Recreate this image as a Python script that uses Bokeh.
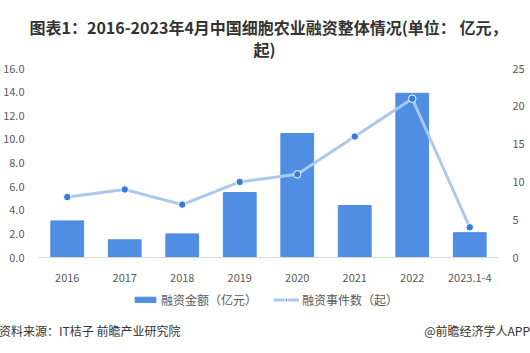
from bokeh.plotting import figure
from bokeh.layouts import column
from bokeh.models import (Range1d, LinearAxis, FixedTicker, NumeralTickFormatter,
                          Title, Legend, LegendItem, Div)
from bokeh.embed import file_html
from bokeh.resources import INLINE

categories = ["2016", "2017", "2018", "2019", "2020", "2021", "2022", "2023.1-4"]
amount = [3.1, 1.5, 2.0, 5.5, 10.5, 4.4, 13.9, 2.1]
events = [8, 9, 7, 10, 11, 16, 21, 4]
left_ticks = [0, 2, 4, 6, 8, 10, 12, 14, 16]
right_ticks = [0, 5, 10, 15, 20, 25]
title_lines = ["图表1：2016-2023年4月中国细胞农业融资整体情况(单位： 亿元，", "起)"]
legend_labels = ["融资金额（亿元）", "融资事件数（起）"]
source_text = "资料来源：IT桔子 前瞻产业研究院"
brand_text = "@前瞻经济学人APP"

FONT = "Noto Sans CJK SC"
BAR = "#4f8ee3"
LINE = "#abc8ef"
DOT = "#3a7bd8"
BL, BR = 36, 32

# ---------------- main chart ----------------
p = figure(width=530, height=285, x_range=categories, y_range=Range1d(0, 16),
           output_backend="svg", toolbar_location=None, title=None,
           min_border_left=BL, min_border_right=BR, min_border_top=68,
           min_border_bottom=28)
p.outline_line_color = None
p.border_fill_color = "white"
p.xgrid.grid_line_color = None
p.ygrid.grid_line_color = None
p.extra_y_ranges = {"cnt": Range1d(0, 25)}

p.vbar(x=categories, top=amount, width=0.57, color=BAR)
p.line(x=categories, y=events, y_range_name="cnt", line_color=LINE, line_width=3)
p.scatter(x=categories, y=events, y_range_name="cnt", size=7.5,
          fill_color=DOT, line_color="white", line_width=1)

ax = p.yaxis[0]
ax.ticker = FixedTicker(ticks=left_ticks)
ax.formatter = NumeralTickFormatter(format="0.0")
rax = LinearAxis(y_range_name="cnt", ticker=FixedTicker(ticks=right_ticks))
p.add_layout(rax, "right")
for a in (ax, rax):
    a.axis_line_color = None
    a.major_tick_line_color = None
    a.minor_tick_line_color = None
    a.major_label_text_font = FONT
    a.major_label_text_font_size = "11px"
    a.major_label_text_color = "#595959"
    a.major_label_standoff = 8

xa = p.xaxis[0]
xa.axis_line_color = "#d9d9d9"
xa.major_tick_line_color = None
xa.minor_tick_line_color = None
xa.major_label_text_font = FONT
xa.major_label_text_font_size = "11px"
xa.major_label_text_color = "#595959"
xa.major_label_standoff = 10

# second title line is indented with ideographic spaces so that it sits centred
title_text = title_lines[0] + "\n" + "\u3000" * 14 + title_lines[1]
p.add_layout(Title(text=title_text, align="center", text_font=FONT,
                   text_font_size="16px", text_font_style="bold",
                   text_line_height=0.95, vertical_align="top",
                   text_color="#333333", standoff=10), "above")

# ---------------- legend strip ----------------
lg = figure(width=530, height=30, x_range=Range1d(0, 1), y_range=Range1d(0, 1),
            output_backend="svg", toolbar_location=None, x_axis_type=None,
            y_axis_type=None, min_border_left=BL, min_border_right=BR,
            min_border_top=0, min_border_bottom=0)
lg.outline_line_color = None
lg.xgrid.grid_line_color = None
lg.ygrid.grid_line_color = None
# legend-key renderers: one point each, kept outside the visible range
lg_bar = lg.vbar(x=[9], top=[9], bottom=[8], width=0.5, color=BAR)
lg_line = lg.line(x=[9, 10], y=[9, 9], line_color=LINE, line_width=3)
lg_dot = lg.scatter(x=[9], y=[9], size=7, fill_color=DOT, line_color="white", line_width=1)
legend = Legend(items=[LegendItem(label=legend_labels[0], renderers=[lg_bar]),
                       LegendItem(label=legend_labels[1], renderers=[lg_line, lg_dot])],
                orientation="horizontal", location=(94, 7),
                glyph_width=26, glyph_height=7, spacing=16, padding=0, margin=0,
                label_text_font=FONT, label_text_font_size="12px",
                label_text_color="#595959", label_standoff=3,
                background_fill_alpha=0, border_line_color=None)
lg.add_layout(legend, "center")

# ---------------- footer ----------------
foot_html = (
    f'<div style="position:relative;width:530px;height:38px;'
    f'font-family:\'{FONT}\';font-size:12px;color:#333333;line-height:16px">'
    f'<span style="position:absolute;left:-1px;top:8px;white-space:nowrap">{source_text}</span>'
    f'<span style="position:absolute;right:0px;top:8px;white-space:nowrap">{brand_text}</span>'
    f'</div>'
)
foot = Div(text=foot_html, width=530, height=38, margin=(0, 0, 0, 0))

layout = column(p, lg, foot, spacing=0)
open("out.html", "w").write(file_html(layout, INLINE))
